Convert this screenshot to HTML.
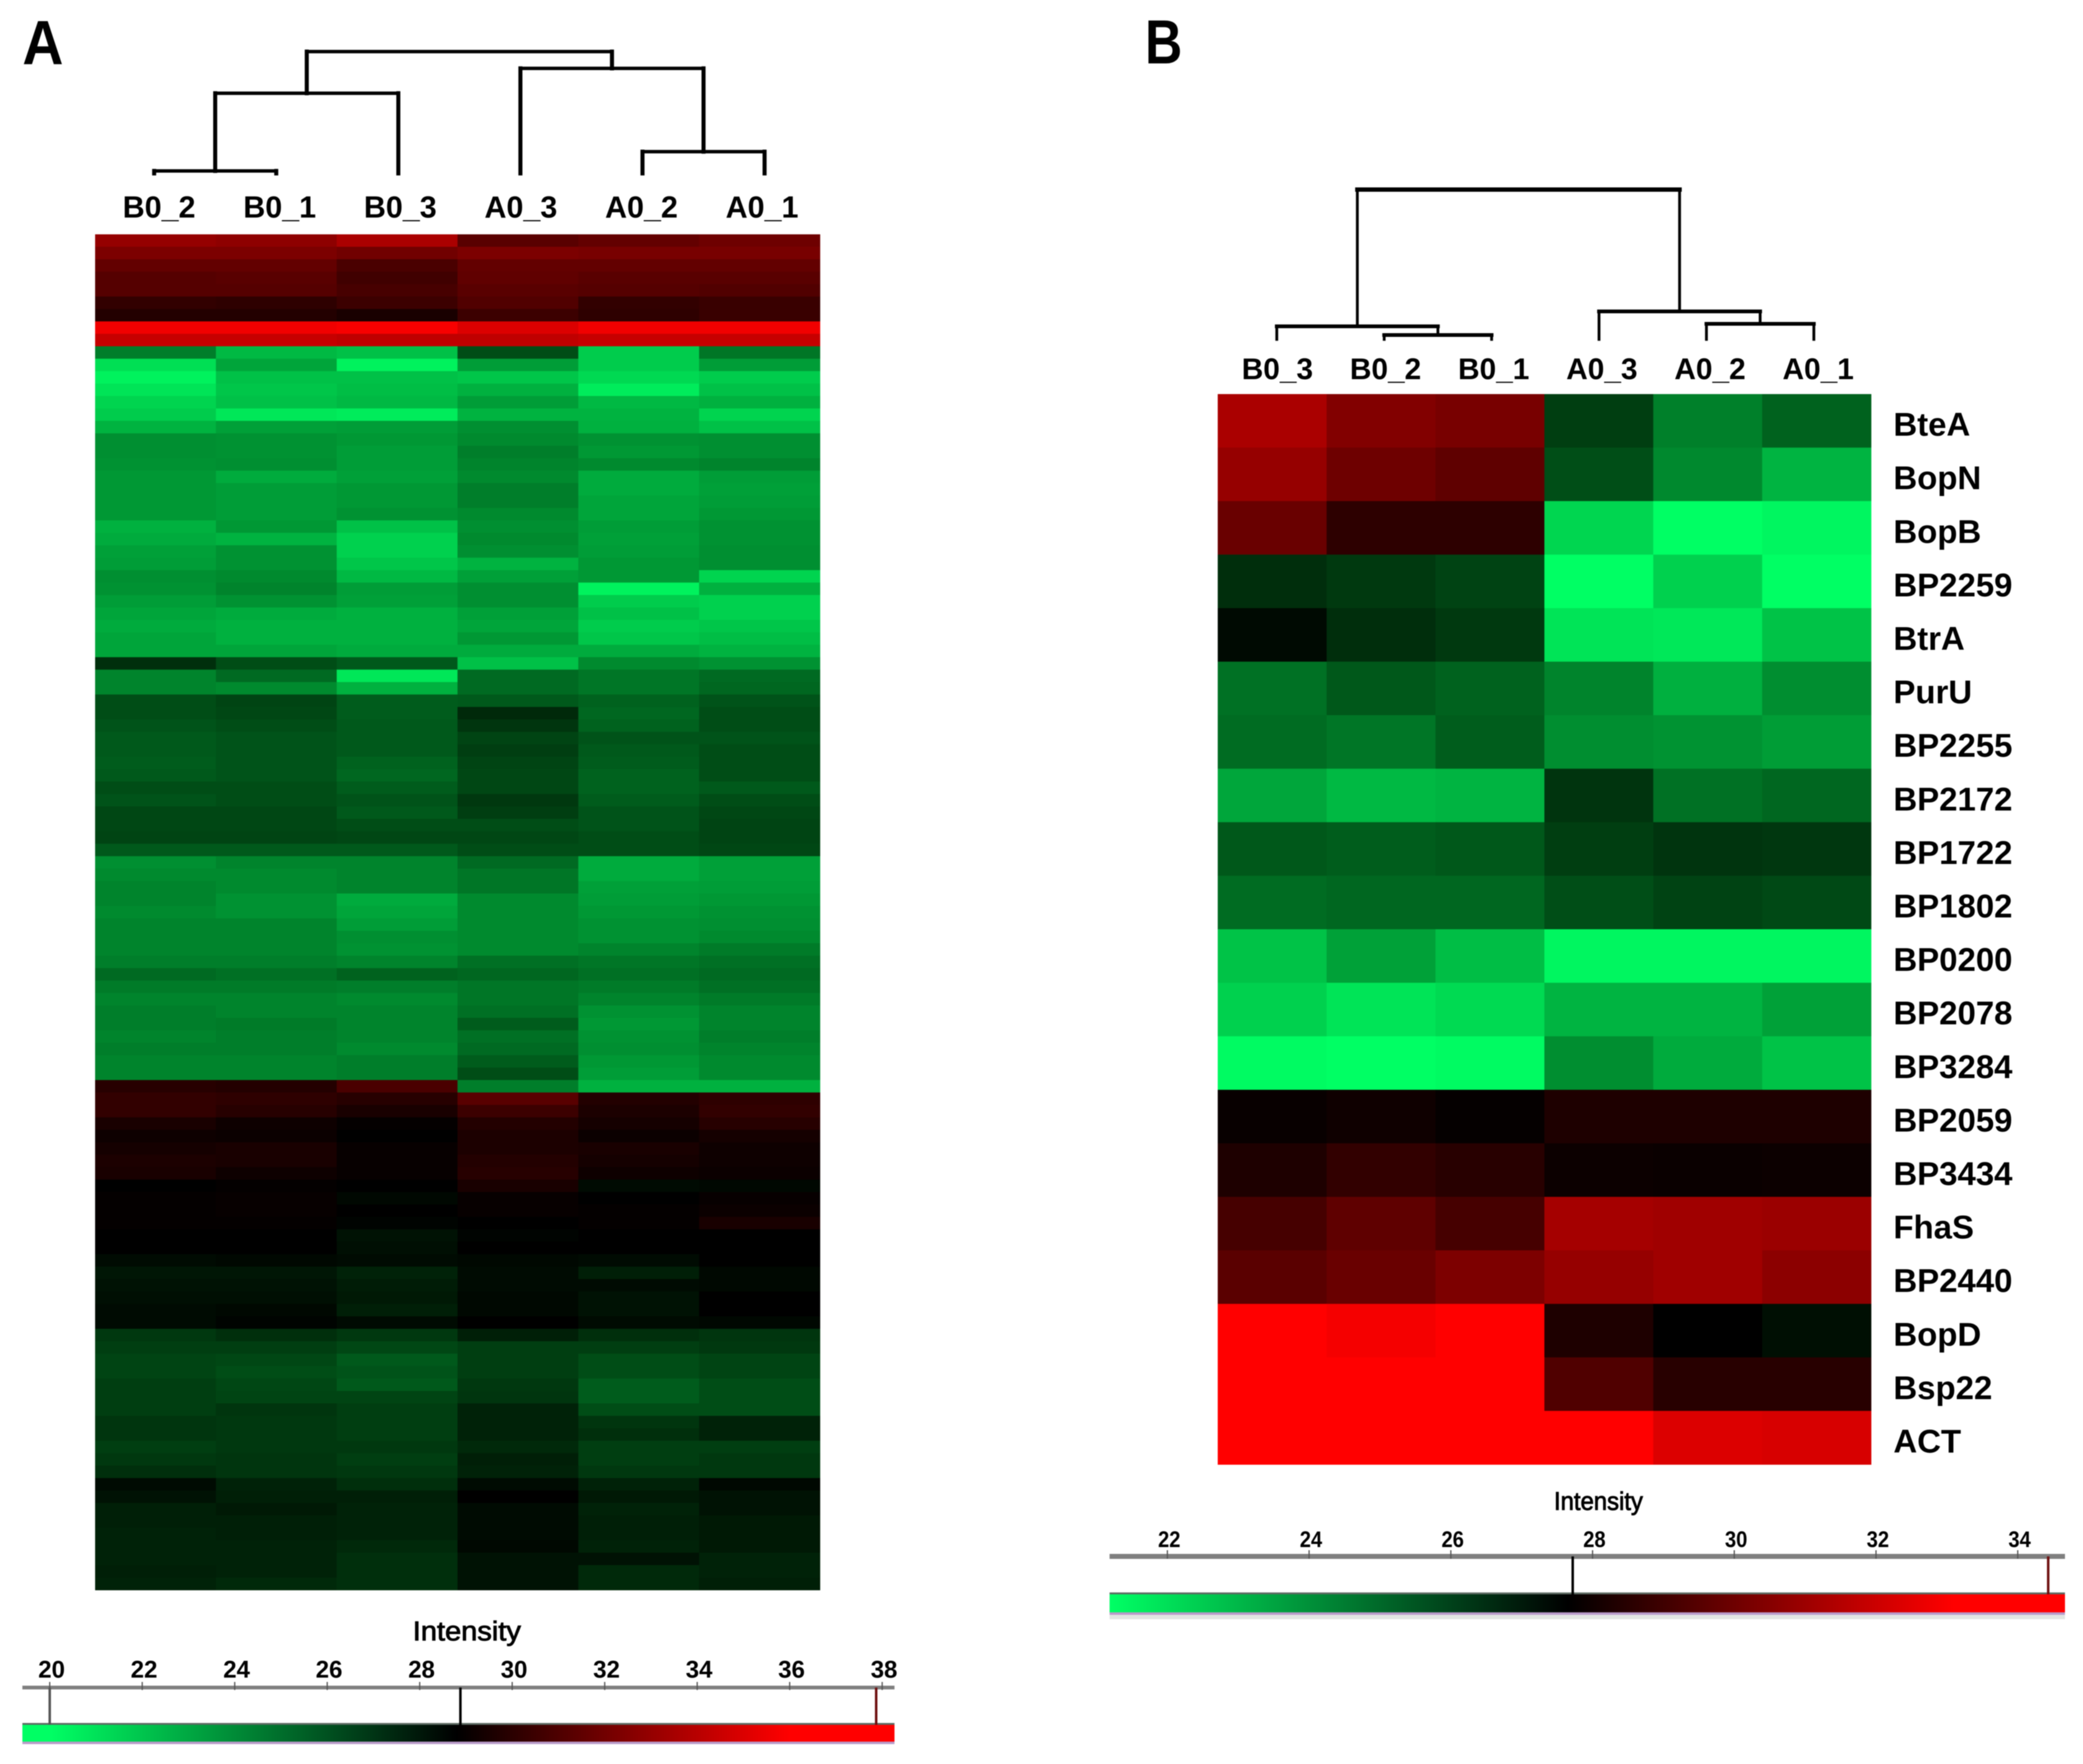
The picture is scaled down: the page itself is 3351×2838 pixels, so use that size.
<!DOCTYPE html>
<html lang="en">
<head>
<meta charset="utf-8">
<title>Protein intensity heatmaps</title>
<style>
html,body{margin:0;padding:0;background:#fff;}
svg{display:block;filter:blur(0.9px);}
text{font-family:"Liberation Sans",sans-serif;fill:#000;}
</style>
</head>
<body>
<svg id="figure" xmlns="http://www.w3.org/2000/svg" width="3351" height="2838" viewBox="0 0 3351 2838">
  <rect x="0" y="0" width="3351" height="2838" fill="#fff"/>
  <text x="36" y="103" font-size="100" font-weight="700" textLength="66" lengthAdjust="spacingAndGlyphs">A</text>
  <text x="1842" y="102" font-size="100" font-weight="700" textLength="60" lengthAdjust="spacingAndGlyphs">B</text>
  <g id="panel-a"></g>
  <g id="panel-b"></g>
  <text x="664" y="2639" font-size="44" textLength="174" lengthAdjust="spacingAndGlyphs" stroke="#000" stroke-width="1.2">Intensity</text>
  <text x="2500" y="2429" font-size="41" textLength="143" lengthAdjust="spacingAndGlyphs" stroke="#000" stroke-width="1.2">Intensity</text>
</svg>
<script>
const samplesA = ['B0_2','B0_1','B0_3','A0_3','A0_2','A0_1'];
const samplesB = ['B0_3','B0_2','B0_1','A0_3','A0_2','A0_1'];
const genesB = ['BteA','BopN','BopB','BP2259','BtrA','PurU','BP2255','BP2172','BP1722','BP1802','BP0200','BP2078','BP3284','BP2059','BP3434','FhaS','BP2440','BopD','Bsp22','ACT'];

const ticksA = [20,22,24,26,28,30,32,34,36,38];
const ticksB = [22,24,26,28,30,32,34];
const tickLabelsA = ['20','22','24','26','28','30','32','34','36','38'];
const tickLabelsB = ['22','24','26','28','30','32','34'];
const colorStopsA = [20, 28.8, 36];
const colorStopsB = [21.2, 27.65, 33.1];
const legendMarkersA = [20, 28.88, 37.87];
const legendMarkersB = [27.72, 34.43];

const mergesA = [[0,1,4],[4,5,35],[6,2,129],[3,7,169],[8,9,196]];
const mergesB = [[1,2,7],[0,6,21],[4,5,25],[3,8,45],[7,9,241]];

const intensityB = [
[31.28,30.43,30.21,26.26,24.61,25.37],
[30.86,30.00,29.68,25.88,24.36,23.22],
[29.89,28.61,28.61,22.33,21.20,21.45],
[26.64,26.38,26.13,21.20,22.46,21.20],
[27.45,26.64,26.38,21.95,21.83,22.84],
[24.99,25.62,25.37,24.49,23.35,24.23],
[25.12,24.87,25.50,24.23,24.11,23.85],
[23.60,23.09,23.22,26.51,24.99,25.24],
[25.62,25.50,25.62,26.26,26.51,26.43],
[25.12,25.24,25.24,25.88,26.13,26.00],
[22.84,23.73,22.97,21.45,21.45,21.45],
[22.46,21.95,22.21,23.22,23.22,23.73],
[21.32,21.20,21.32,24.23,23.47,22.84],
[27.82,27.97,27.76,28.29,28.29,28.29],
[28.29,28.72,28.50,27.91,27.86,27.91],
[29.15,29.68,29.15,31.18,31.07,30.96],
[29.57,29.89,30.32,30.86,31.07,30.64],
[33.10,32.88,33.10,28.29,27.65,27.35],
[33.10,33.10,33.10,29.36,28.50,28.50],
[33.10,33.10,33.10,33.10,32.35,32.24]
];

const intensityA = [
[33.0,32.8,33.6,31.3,31.6,31.9],[32.3,32.3,32.0,32.3,32.2,32.2],[31.6,31.6,30.9,31.6,31.6,31.6],
[31.2,31.3,30.6,31.5,31.3,31.3],[31.2,31.2,30.8,31.3,31.2,31.1],[30.2,30.1,30.5,31.1,30.2,30.4],
[29.8,29.8,29.5,30.5,30.1,30.4],[35.6,35.6,35.8,35.0,35.6,35.6],[34.4,34.4,34.2,34.2,34.4,34.4],
[24.7,22.6,22.3,26.4,21.9,25.0],[21.2,23.3,20.5,23.6,21.9,23.6],[20.5,22.3,22.3,22.1,21.4,21.9],
[21.0,22.1,22.4,22.9,20.7,22.3],[21.6,22.3,22.6,23.6,22.6,22.9],[21.9,20.9,20.7,22.8,22.8,21.6],
[22.8,23.5,23.6,24.1,22.9,22.3],[24.1,24.0,23.8,24.3,24.0,24.1],[24.1,24.0,23.6,24.7,23.8,24.1],
[24.0,24.1,23.6,24.5,24.3,24.5],[23.8,23.1,23.5,24.3,23.1,23.6],[23.8,23.6,23.8,24.7,23.1,23.5],
[23.8,23.6,23.8,24.7,23.3,23.6],[23.8,23.6,24.0,24.3,23.3,23.8],[22.9,23.8,22.3,24.1,23.6,24.0],
[23.1,22.8,21.7,24.3,23.5,24.0],[23.5,24.0,21.7,24.1,23.6,24.1],[23.6,24.0,22.1,22.8,23.8,24.1],
[24.1,24.3,22.6,23.5,23.8,21.6],[24.0,24.5,23.6,24.1,20.5,22.9],[23.6,24.0,23.5,24.1,21.9,21.7],
[23.3,23.1,22.9,23.5,22.3,21.7],[23.1,22.9,22.9,23.3,21.9,22.1],[23.3,22.9,22.9,23.8,22.1,22.4],
[23.3,23.3,23.1,23.1,23.1,22.8],[27.4,26.4,26.0,22.3,24.3,24.0],[24.5,25.4,20.9,25.4,25.0,25.4],
[24.5,24.3,22.9,25.4,25.0,25.5],[26.4,26.7,25.9,26.0,25.7,26.2],[26.4,26.6,25.9,27.6,25.5,26.4],
[26.2,26.4,26.0,27.2,25.7,26.4],[26.0,26.2,26.0,26.7,26.2,26.2],[26.0,26.2,26.0,26.9,26.0,26.4],
[25.9,26.2,25.7,26.7,25.9,26.4],[26.0,26.2,25.5,26.6,25.7,26.4],[26.4,26.4,25.9,26.6,25.7,26.0],
[26.2,26.4,26.2,27.1,25.9,26.4],[26.6,26.6,26.0,26.9,26.2,26.6],[26.6,26.6,26.4,26.4,26.2,26.7],
[26.7,26.7,26.6,26.6,26.4,26.7],[26.0,26.0,26.0,26.4,26.4,26.6],[24.1,24.5,24.5,25.4,23.1,23.5],
[24.3,24.3,24.5,25.0,23.1,23.5],[24.5,24.3,24.5,25.0,23.5,23.6],[24.5,24.0,23.1,24.3,23.6,23.8],
[24.3,24.0,23.3,24.3,23.8,24.0],[24.5,24.5,23.6,24.3,24.0,24.1],[24.5,24.5,24.1,24.3,24.0,24.3],
[24.5,24.5,24.0,24.3,24.5,24.8],[24.7,24.7,24.5,25.2,25.0,25.2],[25.4,25.2,25.7,25.5,25.2,25.4],
[24.8,24.8,24.7,25.0,24.8,25.2],[24.5,24.5,24.3,25.0,24.5,24.8],[24.7,24.5,24.5,25.2,24.0,24.5],
[24.7,24.8,24.5,25.9,23.8,24.5],[24.5,24.7,24.5,25.2,24.0,24.7],[24.7,24.7,24.3,25.4,24.1,24.5],
[24.5,24.5,24.7,25.9,23.8,24.3],[24.5,24.5,24.7,26.4,23.6,24.3],[29.9,29.8,30.9,24.7,22.9,22.9],
[30.2,30.1,29.9,31.3,29.8,30.1],[30.2,29.9,29.5,30.5,29.6,30.2],[29.5,29.2,28.9,29.8,29.4,29.9],
[29.2,29.1,28.8,29.6,29.1,29.4],[29.4,29.5,29.0,29.6,29.5,29.2],[29.6,29.5,29.0,29.8,29.4,29.2],
[29.5,29.2,29.0,29.9,29.2,29.1],[28.8,28.9,28.8,29.5,28.5,28.6],[28.9,29.0,28.6,29.0,28.8,29.0],
[28.9,29.0,28.8,29.0,28.9,29.1],[28.9,28.9,28.7,28.8,28.9,29.5],[28.8,28.8,28.3,28.7,28.8,28.8],
[28.8,28.8,28.4,28.8,28.8,28.8],[28.5,28.6,28.5,28.6,28.5,28.8],[28.2,28.2,27.8,28.5,27.9,28.6],
[28.3,28.3,28.0,28.5,28.5,28.6],[28.4,28.4,28.1,28.6,28.3,28.8],[28.5,28.6,27.9,28.6,28.3,28.8],
[28.5,28.7,28.5,28.8,28.5,28.6],[27.1,27.4,27.1,27.9,27.4,27.2],[26.9,26.9,26.6,26.9,26.9,27.1],
[26.7,26.6,26.0,26.9,26.4,26.7],[26.7,26.4,26.2,26.9,26.4,26.7],[26.9,26.6,26.0,27.1,25.9,26.4],
[26.9,26.7,26.7,27.2,25.9,26.4],[26.9,27.2,26.9,27.8,26.4,26.4],[27.2,27.1,26.9,27.8,27.2,27.8],
[27.2,27.1,26.9,27.8,27.4,27.8],[26.9,27.1,27.1,27.6,26.9,26.9],[27.1,27.2,26.9,27.9,26.9,27.1],
[27.4,27.2,27.1,27.8,27.1,27.1],[28.5,27.8,27.4,28.5,27.8,28.6],[28.3,27.9,27.9,28.8,28.1,28.3],
[27.9,28.1,27.8,28.5,27.8,28.3],[27.9,27.9,27.8,28.5,27.9,28.1],[27.8,27.9,27.8,28.5,27.9,28.1],
[27.8,27.8,27.6,28.6,27.8,28.1],[27.8,27.8,27.4,28.3,28.3,27.8],[27.9,27.8,27.4,28.3,27.6,27.8],
[27.8,27.6,27.4,28.3,27.6,27.9]
];

const NS = 'http://www.w3.org/2000/svg';

function make(tag, parent, attrs, name) {
  const el = document.createElementNS(NS, tag);
  
  
  for (const k in attrs) el.setAttribute(k, attrs[k]);
  parent.appendChild(el);
  return el;
}

function colorFor(v, stops) {
  const low = stops[0], mid = stops[1], high = stops[2];
  if (v <= mid) {
    const t = Math.min(1, (mid - v) / (mid - low));
    return 'rgb(0,' + Math.round(255 * Math.pow(t, 0.92)) + ',' + Math.round(100 * Math.pow(t, 1.15)) + ')';
  }
  const t = Math.min(1, (v - mid) / (high - mid));
  return 'rgb(' + Math.round(255 * t) + ',0,0)';
}

function drawHeatmap(parent, matrix, stops, box, prefix) {
  const rowH = (box.y1 - box.y0) / matrix.length;
  const colW = (box.x1 - box.x0) / matrix[0].length;
  const g = make('g', parent, {}, prefix + '-heatmap');
  matrix.forEach(function (row, r) {
    row.forEach(function (v, c) {
      make('rect', g, {
        x: box.x0 + c * colW,
        y: box.y0 + r * rowH,
        width: colW + 0.5,
        height: rowH + 0.5,
        fill: colorFor(v, stops)
      }, prefix + '-cell-r' + r + '-c' + c);
    });
  });
}

function drawDendrogram(parent, leafCount, merges, geo, prefix) {
  const g = make('g', parent, {fill: 'none', stroke: '#000', 'stroke-linecap': 'square'}, prefix + '-dendrogram');
  const nodes = [];
  for (let i = 0; i < leafCount; i++) nodes.push({x: geo.leaf0 + i * geo.leafStep, h: 0});
  const py = function (h) { return geo.base - h; };
  merges.forEach(function (m, i) {
    const a = nodes[m[0]], b = nodes[m[1]], h = m[2];
    const top = m === merges[merges.length - 1];
    make('line', g, {x1: a.x, y1: py(h), x2: b.x, y2: py(h), 'stroke-width': top ? geo.rootW : geo.hW}, prefix + '-merge-bar-' + i);
    make('line', g, {x1: a.x, y1: py(h), x2: a.x, y2: py(a.h), 'stroke-width': geo.vW}, prefix + '-merge-left-' + i);
    make('line', g, {x1: b.x, y1: py(h), x2: b.x, y2: py(b.h), 'stroke-width': geo.vW}, prefix + '-merge-right-' + i);
    nodes.push({x: (a.x + b.x) / 2, h: h});
  });
}

function drawLegend(parent, cfg, prefix) {
  const g = make('g', parent, {}, prefix + '-color-legend');
  const sx = function (v) { return cfg.x0 + cfg.perUnit * (v - cfg.origin); };
  const defs = make('defs', g, {}, prefix + '-legend-defs');
  const grad = make('linearGradient', defs, {id: prefix + '-grad', gradientUnits: 'userSpaceOnUse', x1: cfg.left, x2: cfg.right, y1: 0, y2: 0}, prefix + '-legend-gradient');
  const span = cfg.right - cfg.left;
  [[cfg.stops[0], '#00ff64'], [cfg.stops[1], '#000000'], [cfg.stops[2], '#ff0000']].forEach(function (s, i) {
    make('stop', grad, {offset: (sx(s[0]) - cfg.left) / span, 'stop-color': s[1]}, prefix + '-legend-stop-' + i);
  });
  make('rect', g, {x: cfg.left, y: cfg.barTop + cfg.barH, width: span, height: cfg.fringeH, fill: '#b99bc9'}, prefix + '-legend-bar-fringe');
  if (cfg.glowH) {
    make('rect', g, {x: cfg.left, y: cfg.barTop + cfg.barH + cfg.fringeH, width: span, height: cfg.glowH, fill: '#e2e5e2'}, prefix + '-legend-bar-shadow');
  }
  make('rect', g, {x: cfg.left, y: cfg.barTop, width: span, height: cfg.barH, fill: 'url(#' + prefix + '-grad)'}, prefix + '-legend-bar');
  make('rect', g, {x: cfg.left, y: cfg.barTop - 3, width: span, height: 3, fill: '#5c6a62'}, prefix + '-legend-bar-edge');
  make('rect', g, {x: cfg.left, y: cfg.axisY - cfg.axisH / 2, width: span, height: cfg.axisH, fill: '#7f7f7f'}, prefix + '-legend-axis');
  cfg.ticks.forEach(function (t, i) {
    make('line', g, {x1: sx(t), x2: sx(t), y1: cfg.axisY - cfg.tickUp, y2: cfg.axisY + 4, stroke: '#555', 'stroke-width': 2}, prefix + '-legend-tick-' + t);
    const label = make('text', g, {x: sx(t) + cfg.labelDx, y: cfg.labelY, 'font-size': cfg.labelSize, 'font-weight': 700, 'text-anchor': 'middle', textLength: cfg.labelW, lengthAdjust: 'spacingAndGlyphs'}, prefix + '-legend-tick-label-' + t);
    label.textContent = cfg.labels[i];
  });
  cfg.markers.forEach(function (m, i) {
    const col = cfg.markerColors[i];
    make('line', g, {x1: sx(m), x2: sx(m), y1: cfg.axisY, y2: cfg.barTop, stroke: col, 'stroke-width': 4}, prefix + '-legend-marker-' + i);
  });
}

const panelA = document.getElementById('panel-a');
const panelB = document.getElementById('panel-b');

drawHeatmap(panelA, intensityA, colorStopsA, {x0: 153, x1: 1319, y0: 377, y1: 2558}, 'panel-a');
drawHeatmap(panelB, intensityB, colorStopsB, {x0: 1959, x1: 3010, y0: 634, y1: 2356}, 'panel-b');

drawDendrogram(panelA, samplesA.length, mergesA, {leaf0: 248, leafStep: 196.4, base: 279, vW: 6.5, hW: 5.5, rootW: 5.5}, 'panel-a');
drawDendrogram(panelB, samplesB.length, mergesB, {leaf0: 2054, leafStep: 172.8, base: 546, vW: 4.5, hW: 6, rootW: 7}, 'panel-b');

samplesA.forEach(function (s, i) {
  const t = make('text', panelA, {x: 256 + 194 * i, y: 350, 'font-size': 49, 'font-weight': 700, 'text-anchor': 'middle'}, 'panel-a-sample-label-' + s);
  t.textContent = s;
});
samplesB.forEach(function (s, i) {
  const t = make('text', panelB, {x: 2055 + 174 * i, y: 610, 'font-size': 48, 'font-weight': 700, 'text-anchor': 'middle'}, 'panel-b-sample-label-' + s);
  t.textContent = s;
});
genesB.forEach(function (g, i) {
  const t = make('text', panelB, {x: 3046, y: 634 + 86.1 * (i + 0.5) + 24, 'font-size': 53, 'font-weight': 700}, 'gene-label-' + g);
  t.textContent = g;
});

drawLegend(panelA, {
  x0: 80, origin: 20, perUnit: 74.4, left: 36, right: 1439,
  axisY: 2715, axisH: 6, tickUp: 9, labelY: 2699, labelSize: 39, labelW: 43, labelDx: 3,
  barTop: 2775, barH: 27, fringeH: 4, glowH: 0,
  ticks: ticksA, labels: tickLabelsA, stops: colorStopsA,
  markers: legendMarkersA, markerColors: ['#555555', '#000000', '#6e0f0f']
}, 'panel-a');

drawLegend(panelB, {
  x0: 1878, origin: 22, perUnit: 114, left: 1785, right: 3322,
  axisY: 2504, axisH: 8, tickUp: 10, labelY: 2489, labelSize: 36, labelW: 36, labelDx: 3,
  barTop: 2565, barH: 29, fringeH: 4, glowH: 7,
  ticks: ticksB, labels: tickLabelsB, stops: colorStopsB,
  markers: legendMarkersB, markerColors: ['#000000', '#6e0f0f']
}, 'panel-b');
</script>
</body>
</html>
